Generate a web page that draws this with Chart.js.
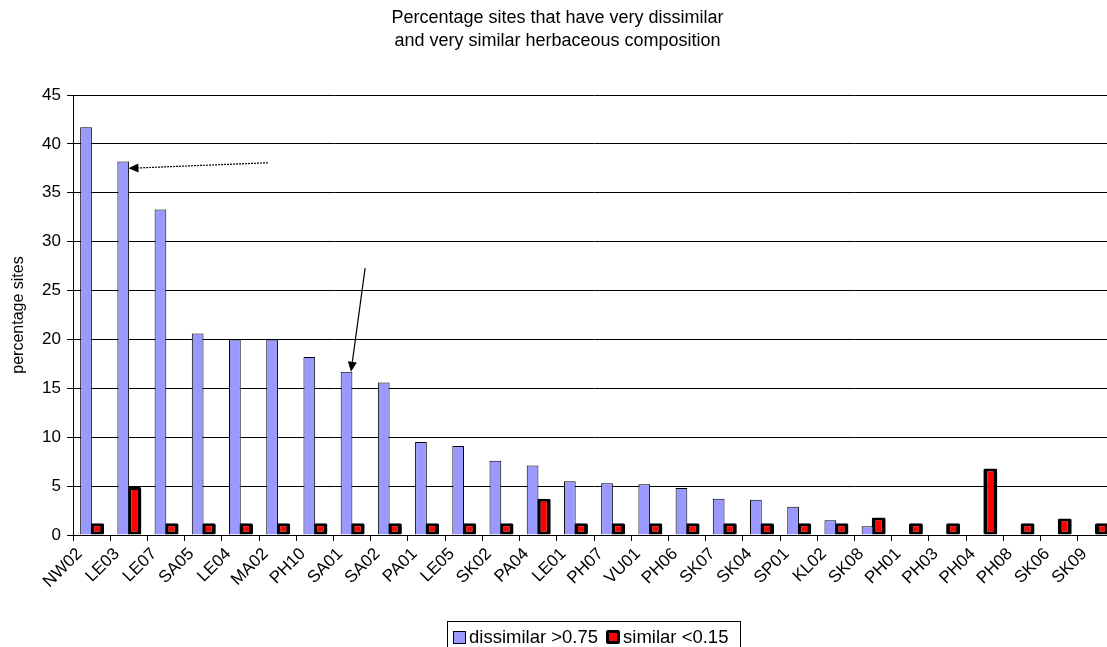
<!DOCTYPE html>
<html>
<head>
<meta charset="utf-8">
<script src="https://cdn.jsdelivr.net/npm/chart.js@4/dist/chart.umd.min.js"></script>
<style>
  body { margin: 0; overflow: hidden; background: #fff; }
  #wrap { position: relative; width: 1115px; height: 647px; }
  .legend {
    position: absolute; left: 447px; top: 621px; width: 294px; height: 30px;
    border: 1px solid #000; box-sizing: border-box;
    font-family: Arial, "Liberation Sans", sans-serif; font-size: 18.5px; color: #000;
    display: flex; align-items: center; padding-left: 5px; padding-top: 2px;
  }
  .legend .box { display: inline-block; box-sizing: border-box; margin-right: 3px; }
  .legend .txt { margin-right: 8px; white-space: nowrap; }
</style>
</head>
<body>
<div id="wrap">
  <canvas id="myChart" width="1115" height="647" style="width:1115px;height:647px"></canvas>
  <div class="legend" id="legend"></div>
</div>
<script>
const categories = ['NW02', 'LE03', 'LE07', 'SA05', 'LE04', 'MA02', 'PH10', 'SA01', 'SA02', 'PA01',
  'LE05', 'SK02', 'PA04', 'LE01', 'PH07', 'VU01', 'PH06', 'SK07', 'SK04', 'SP01',
  'KL02', 'SK08', 'PH01', 'PH03', 'PH04', 'PH08', 'SK06', 'SK09'];

const dissimilar = [41.7, 38.2, 33.3, 20.6, 20.0, 20.0, 18.2, 16.7, 15.6, 9.5,
  9.1, 7.6, 7.1, 5.5, 5.3, 5.2, 4.8, 3.7, 3.6, 2.9,
  1.5, 0.9, 0, 0, 0, 0, 0, 0];

const similar = [1.2, 4.9, 1.2, 1.2, 1.2, 1.2, 1.2, 1.2, 1.2, 1.2,
  1.2, 1.2, 3.7, 1.2, 1.2, 1.2, 1.2, 1.2, 1.2, 1.2,
  1.2, 1.8, 1.2, 1.2, 6.8, 1.2, 1.7, 1.2];

const seriesNames = ['dissimilar >0.75', 'similar <0.15'];
const titleLines = ['Percentage sites that have very dissimilar', 'and very similar herbaceous composition'];
const yTitle = 'percentage sites';

// arrows in data units: [category index, value]
const arrowFrom = [[4.74, 38.07], [7.35, 27.3]];
const arrowTo = [[0.99, 37.5], [6.97, 16.7]];
const arrowDashed = [true, false];

const font = 'Arial, "Liberation Sans", sans-serif';

const arrowPlugin = {
  id: 'arrows',
  afterDatasetsDraw(chart) {
    const ctx = chart.ctx;
    const x = chart.scales.x;
    const y = chart.scales.y;
    ctx.save();
    arrowFrom.forEach((from, i) => {
      const x1 = x.getPixelForValue(from[0]);
      const y1 = y.getPixelForValue(from[1]);
      const x2 = x.getPixelForValue(arrowTo[i][0]);
      const y2 = y.getPixelForValue(arrowTo[i][1]);
      const ang = Math.atan2(y2 - y1, x2 - x1);
      const head = 10;
      ctx.strokeStyle = '#000';
      ctx.fillStyle = '#000';
      ctx.lineWidth = 1.2;
      ctx.setLineDash(arrowDashed[i] ? [2, 1] : []);
      ctx.beginPath();
      ctx.moveTo(x1, y1);
      ctx.lineTo(x2 - Math.cos(ang) * head, y2 - Math.sin(ang) * head);
      ctx.stroke();
      ctx.setLineDash([]);
      ctx.beginPath();
      ctx.moveTo(x2, y2);
      ctx.lineTo(x2 - Math.cos(ang) * head - Math.sin(ang) * 4.5, y2 - Math.sin(ang) * head + Math.cos(ang) * 4.5);
      ctx.lineTo(x2 - Math.cos(ang) * head + Math.sin(ang) * 4.5, y2 - Math.sin(ang) * head - Math.cos(ang) * 4.5);
      ctx.closePath();
      ctx.fill();
    });
    ctx.restore();
  }
};

const ctx = document.getElementById('myChart').getContext('2d');
const myChart = new Chart(ctx, {
  type: 'bar',
  data: {
    labels: categories,
    datasets: [{
      label: seriesNames[0],
      data: dissimilar,
      backgroundColor: '#9999ff',
      borderColor: '#000',
      borderWidth: 1,
      borderSkipped: 'start',
      barPercentage: 1.05,
      categoryPercentage: 0.6
    }, {
      label: seriesNames[1],
      data: similar,
      backgroundColor: '#ff0000',
      borderColor: '#000',
      borderWidth: { top: 3, bottom: 3, left: 4, right: 4 },
      borderSkipped: false,
      borderRadius: 1.5,
      barPercentage: 1.25,
      categoryPercentage: 0.6
    }]
  },
  options: {
    responsive: false,
    animation: false,
    devicePixelRatio: 1,
    layout: { padding: { left: 0, right: 0, top: 0, bottom: 0 } },
    plugins: {
      legend: { display: false },
      tooltip: { enabled: false },
      title: {
        display: true,
        text: titleLines,
        color: '#000',
        font: { family: font, size: 18, weight: 'normal', lineHeight: 1.25 },
        padding: { top: 7, bottom: 43 }
      }
    },
    scales: {
      x: {
        grid: { offset: true, drawOnChartArea: false, color: '#000', tickLength: 6 },
        border: { color: '#000' },
        ticks: {
          autoSkip: false, maxRotation: 45, minRotation: 45,
          color: '#000', font: { family: font, size: 17 }, labelOffset: -12, padding: 3
        },
        afterFit: (scale) => { scale.height = 112; }
      },
      y: {
        min: 0,
        max: 45,
        ticks: { stepSize: 5, color: '#000', font: { family: font, size: 17 }, padding: 6 },
        grid: { color: '#000', tickLength: 6 },
        border: { color: '#000' },
        title: {
          display: true, text: yTitle, color: '#000',
          font: { family: font, size: 16 }, padding: { top: 9, bottom: 0 }
        },
        afterFit: (scale) => { scale.width = 73; }
      }
    }
  },
  plugins: [arrowPlugin]
});

// legend in the boxed style of the original
const legendColors = [['#9999ff', 1, 13], ['#ff0000', 3.5, 14]];
const legendDiv = document.getElementById('legend');
seriesNames.forEach((name, i) => {
  const box = document.createElement('span');
  box.className = 'box';
  box.style.background = legendColors[i][0];
  box.style.border = legendColors[i][1] + 'px solid #000';
  box.style.width = legendColors[i][2] + 'px';
  box.style.height = legendColors[i][2] + 'px';
  if (i == 1) box.style.borderRadius = '2px';
  const txt = document.createElement('span');
  txt.className = 'txt';
  txt.textContent = name;
  legendDiv.appendChild(box);
  legendDiv.appendChild(txt);
});
</script>
</body>
</html>
